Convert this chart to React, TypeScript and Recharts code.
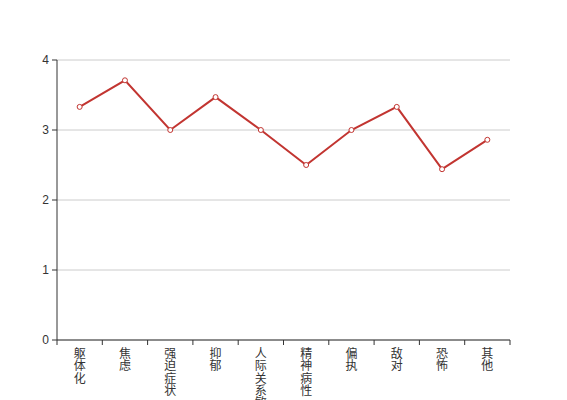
import React from 'react';
import { LineChart, Line, XAxis, YAxis, CartesianGrid } from 'recharts';

const categories = ['躯体化', '焦虑', '强迫症状', '抑郁', '人际关系敏感', '精神病性', '偏执', '敌对', '恐怖', '其他'];
const scores = [3.33, 3.71, 3.0, 3.47, 3.0, 2.5, 3.0, 3.33, 2.44, 2.86];
const yTicks = [0, 1, 2, 3, 4];

const data = categories.map((name, i) => ({ name, value: scores[i] }));

const XTick = (props: any) => {
  const { x, y, payload, index, visibleTicksCount } = props;
  const off = payload && payload.offset ? payload.offset : 0;
  const chars = String(payload.value).split('');
  const isLast = index === visibleTicksCount - 1;
  return (
    <g>
      <line x1={x - off} x2={x - off} y1={y - 5} y2={y} stroke="#333" strokeWidth={1} />
      {isLast && <line x1={x + off} x2={x + off} y1={y - 5} y2={y} stroke="#333" strokeWidth={1} />}
      <text x={x} y={y + 13} textAnchor="middle" fill="#333" fontSize={12} fontFamily="'Noto Sans CJK SC', sans-serif">
        {chars.map((c, i) => (
          <tspan key={i} x={x} dy={i === 0 ? 0 : 12.3}>{c}</tspan>
        ))}
      </text>
    </g>
  );
};

export default function App() {
  return (
    <div style={{ position: 'absolute', left: 0, top: 0 }}>
      <LineChart width={567} height={400} data={data} margin={{ top: 60, right: 57, bottom: 0, left: 0 }}>
        <CartesianGrid horizontal={true} vertical={false} stroke="#ccc" />
        <XAxis
          dataKey="name"
          scale="band"
          interval={0}
          tickLine={false}
          tickSize={5}
          tickMargin={0}
          height={60}
          stroke="#333"
          tick={<XTick />}
        />
        <YAxis
          domain={[0, 4]}
          ticks={yTicks}
          width={57}
          tickSize={5}
          tickMargin={3}
          stroke="#333"
          tick={{ fill: '#333', fontSize: 12, fontFamily: 'Liberation Sans, Arial, sans-serif' }}
        />
        <Line
          type="linear"
          dataKey="value"
          stroke="#c23531"
          strokeWidth={2}
          dot={{ r: 2.5, fill: '#fff', stroke: '#c23531', strokeWidth: 1 }}
          activeDot={false}
          isAnimationActive={false}
        />
      </LineChart>
    </div>
  );
}
